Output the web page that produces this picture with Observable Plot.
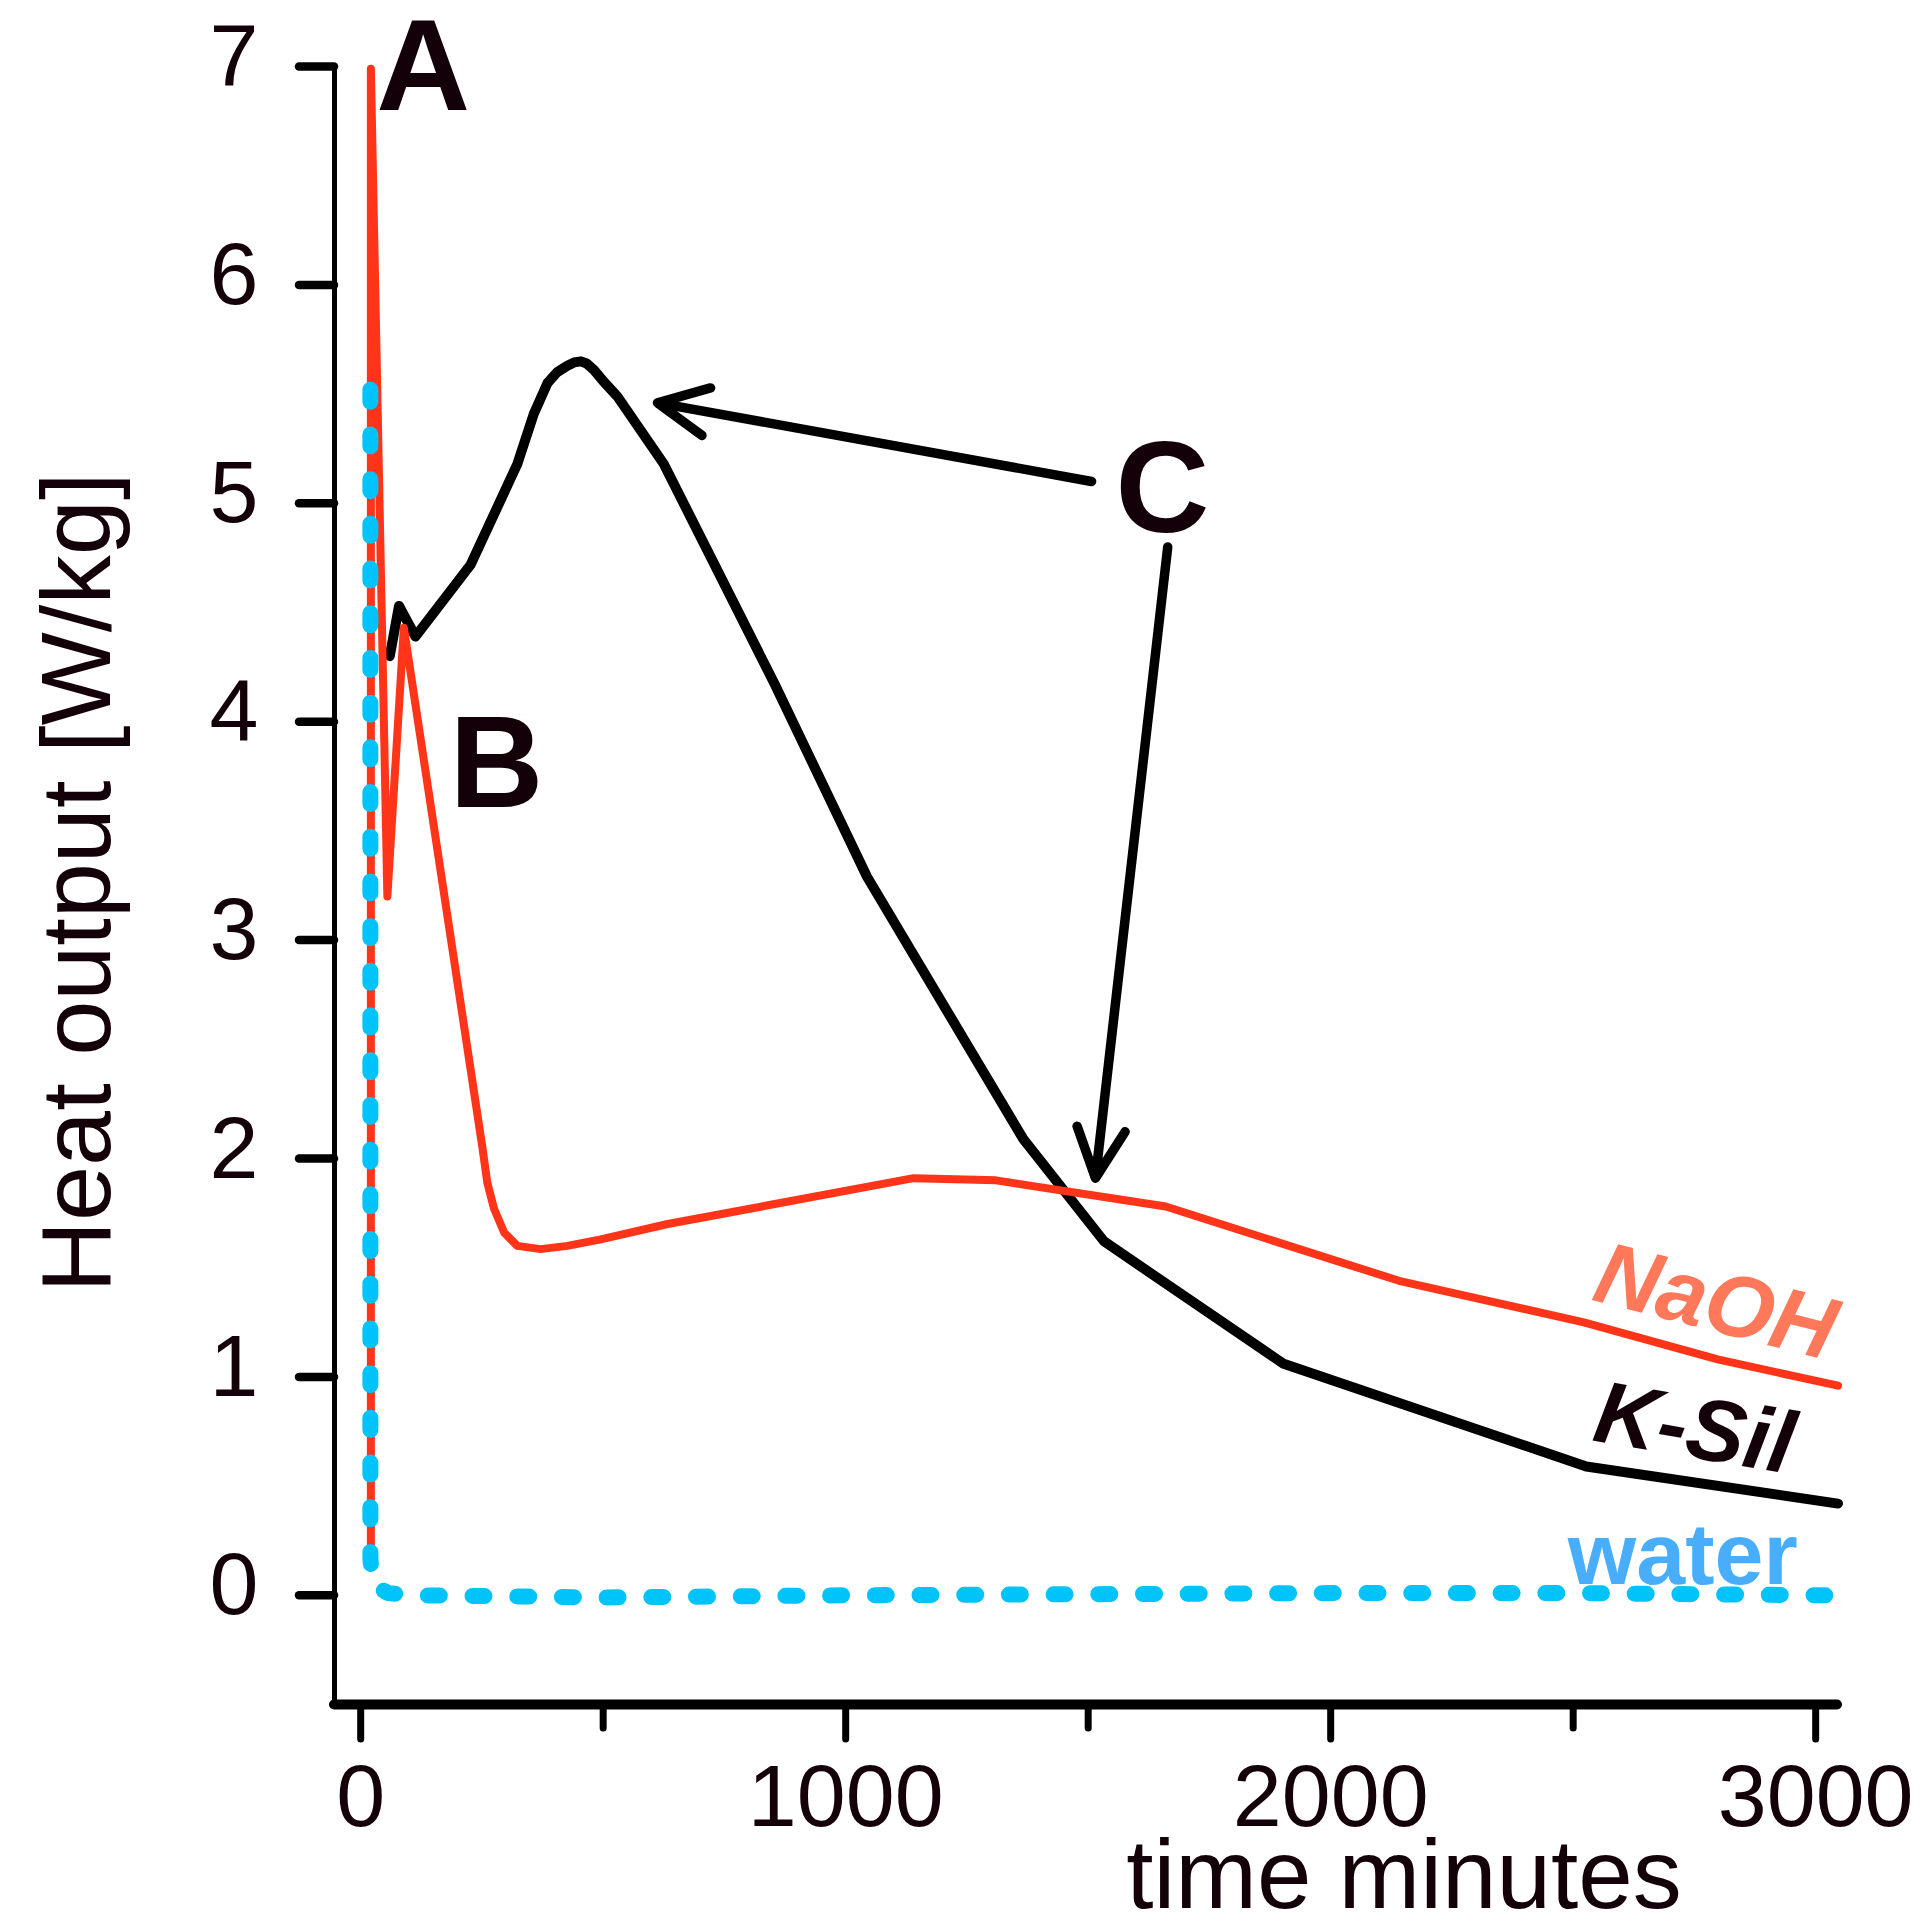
<!DOCTYPE html>
<html>
<head>
<meta charset="utf-8">
<script src="https://cdn.jsdelivr.net/npm/d3@7"></script>
<script src="https://cdn.jsdelivr.net/npm/@observablehq/plot@0.6"></script>
<style>
  html, body { margin: 0; padding: 0; background: #ffffff; }
  #chart svg { display: block; }
</style>
</head>
<body>
<div id="chart"></div>
<script>
// ---- data (time in minutes, heat output in W/kg) ----
const naohTime = [21, 21, 55, 89, 251, 261, 275, 296, 323, 371, 426, 495, 633, 1140, 1310, 1660, 2141, 2522, 2798, 3046];
const naohHeat = [0.15, 6.99, 3.20, 4.43, 2.05, 1.89, 1.77, 1.66, 1.60, 1.585, 1.60, 1.63, 1.70, 1.91, 1.90, 1.78, 1.44, 1.25, 1.08, 0.96];

const kSilTime = [60, 79, 113, 227, 323, 357, 385, 405, 426, 440, 454, 466, 481, 500, 529, 625, 854, 1044, 1366, 1533, 1903, 2527, 3046];
const kSilHeat = [4.30, 4.53, 4.39, 4.72, 5.18, 5.41, 5.55, 5.60, 5.63, 5.645, 5.65, 5.64, 5.61, 5.56, 5.49, 5.18, 4.17, 3.29, 2.09, 1.62, 1.06, 0.59, 0.42];

const waterTime = [20, 20, 24, 40, 57, 114, 500, 1000, 1500, 2000, 2500, 3020];
const waterHeat = [5.52, 0.17, 0.06, 0.03, 0.01, 0, -0.01, 0, 0.005, 0.01, 0.01, 0];

const xDomain = [-54, 3045];
const yDomain = [-0.5, 7];
const yTicks = [0, 1, 2, 3, 4, 5, 6, 7];
const xLabelTicks = [0, 1000, 2000, 3000];
const xMinorTicks = [500, 1500, 2500];

const markLetters = ["A", "B", "C"];
const markLetterX = [129, 280, 1653];
const markLetterY = [6.99, 3.80, 5.06];

const arrowFromX = [1507, 1664];
const arrowFromY = [5.10, 4.80];
const arrowToX = [612, 1515];
const arrowToY = [5.46, 1.91];

const seriesNames = ["NaOH", "K-Sil", "water"];
const seriesLabelX = [2794, 2750, 2726];
const seriesLabelY = [1.34, 0.76, 0.18];
const seriesLabelAngle = [14.4, 9.7, 0];

const xTitle = "time minutes";
const yTitle = "Heat output [W/kg]";

// ---- tables built from the arrays ----
const toRows = (xs, ys) => xs.map((x, i) => ({x, y: ys[i]}));
const naoh = toRows(naohTime, naohHeat);
const kSil = toRows(kSilTime, kSilHeat);
const water = toRows(waterTime, waterHeat);
const letters = markLetters.map((t, i) => ({t, x: markLetterX[i], y: markLetterY[i]}));
const arrows = arrowFromX.map((x1, i) => ({x1, y1: arrowFromY[i], x2: arrowToX[i], y2: arrowToY[i]}));
const labels = seriesNames.map((t, i) => ({t, x: seriesLabelX[i], y: seriesLabelY[i], r: seriesLabelAngle[i]}));

const FONT = "'Liberation Sans', Arial, Helvetica, sans-serif";
const INK = "#140008";

const chart = Plot.plot({
  width: 1922,
  height: 1927,
  marginLeft: 334,
  marginRight: 85,
  marginTop: 66,
  marginBottom: 223,
  x: {domain: xDomain},
  y: {domain: yDomain},
  style: {fontFamily: FONT, background: "#ffffff", color: INK, overflow: "visible"},
  marks: [
    // axis lines
    Plot.ruleX([xDomain[0]], {y1: yDomain[0], y2: yTicks[yTicks.length - 1], stroke: "#000", strokeWidth: 5, strokeLinecap: "round"}),
    Plot.ruleY([yDomain[0]], {x1: xDomain[0], x2: xDomain[1], stroke: "#000", strokeWidth: 10, strokeLinecap: "round"}),
    // y ticks and labels
    Plot.axisY(yTicks, {tickSize: 35, tickFormat: () => "", stroke: "#000", strokeWidth: 8.5, strokeLinecap: "round", label: null}),
    Plot.axisY(yTicks, {tickSize: 0, tickPadding: 76, fontSize: 88, dy: -9, tickFormat: "d", label: null}),
    // x ticks and labels
    Plot.axisX(xLabelTicks, {tickSize: 35, tickFormat: () => "", stroke: "#000", strokeWidth: 7, strokeLinecap: "round", label: null}),
    Plot.axisX(xMinorTicks, {tickSize: 24, tickFormat: () => "", stroke: "#000", strokeWidth: 7, strokeLinecap: "round", label: null}),
    Plot.axisX(xLabelTicks, {tickSize: 0, tickPadding: 59, fontSize: 88, tickFormat: "d", label: null}),
    // axis titles
    Plot.text([yTitle], {frameAnchor: "left", dx: -256, dy: -3, rotate: -90, fontSize: 99, fill: INK, textAnchor: "middle", lineAnchor: "middle"}),
    Plot.text([xTitle], {frameAnchor: "bottom", dx: 318, dy: 172, fontSize: 98, fill: INK, textAnchor: "middle", lineAnchor: "middle"}),
    // series
    Plot.line(kSil, {x: "x", y: "y", stroke: "#000000", strokeWidth: 10}),
    Plot.line(naoh, {x: "x", y: "y", stroke: "#ff3418", strokeWidth: 8}),
    Plot.line(water, {x: "x", y: "y", stroke: "#00c3fa", strokeWidth: 16, strokeDasharray: "12,32.7", strokeLinecap: "round"}),
    // annotations
    Plot.arrow(arrows, {x1: "x1", y1: "y1", x2: "x2", y2: "y2", stroke: "#000", strokeWidth: 9.5, headAngle: 52, headLength: 8.7}),
    Plot.text(letters, {x: "x", y: "y", text: "t", fontSize: 130, fontWeight: "bold", fill: INK, textAnchor: "middle", lineAnchor: "middle"}),
    Plot.text(labels.filter(d => d.t === "NaOH"), {x: "x", y: "y", text: "t", rotate: "r", fontSize: 88, fontWeight: "bold", fontStyle: "italic", fill: "#ff785a", textAnchor: "middle", lineAnchor: "middle"}),
    Plot.text(labels.filter(d => d.t === "K-Sil"), {x: "x", y: "y", text: "t", rotate: "r", fontSize: 88, fontWeight: "bold", fontStyle: "italic", fill: INK, textAnchor: "middle", lineAnchor: "middle"}),
    Plot.text(labels.filter(d => d.t === "water"), {x: "x", y: "y", text: "t", rotate: "r", fontSize: 88, fontWeight: "bold", fill: "#48aefc", textAnchor: "middle", lineAnchor: "middle"})
  ]
});
document.getElementById("chart").append(chart);
</script>
</body>
</html>
